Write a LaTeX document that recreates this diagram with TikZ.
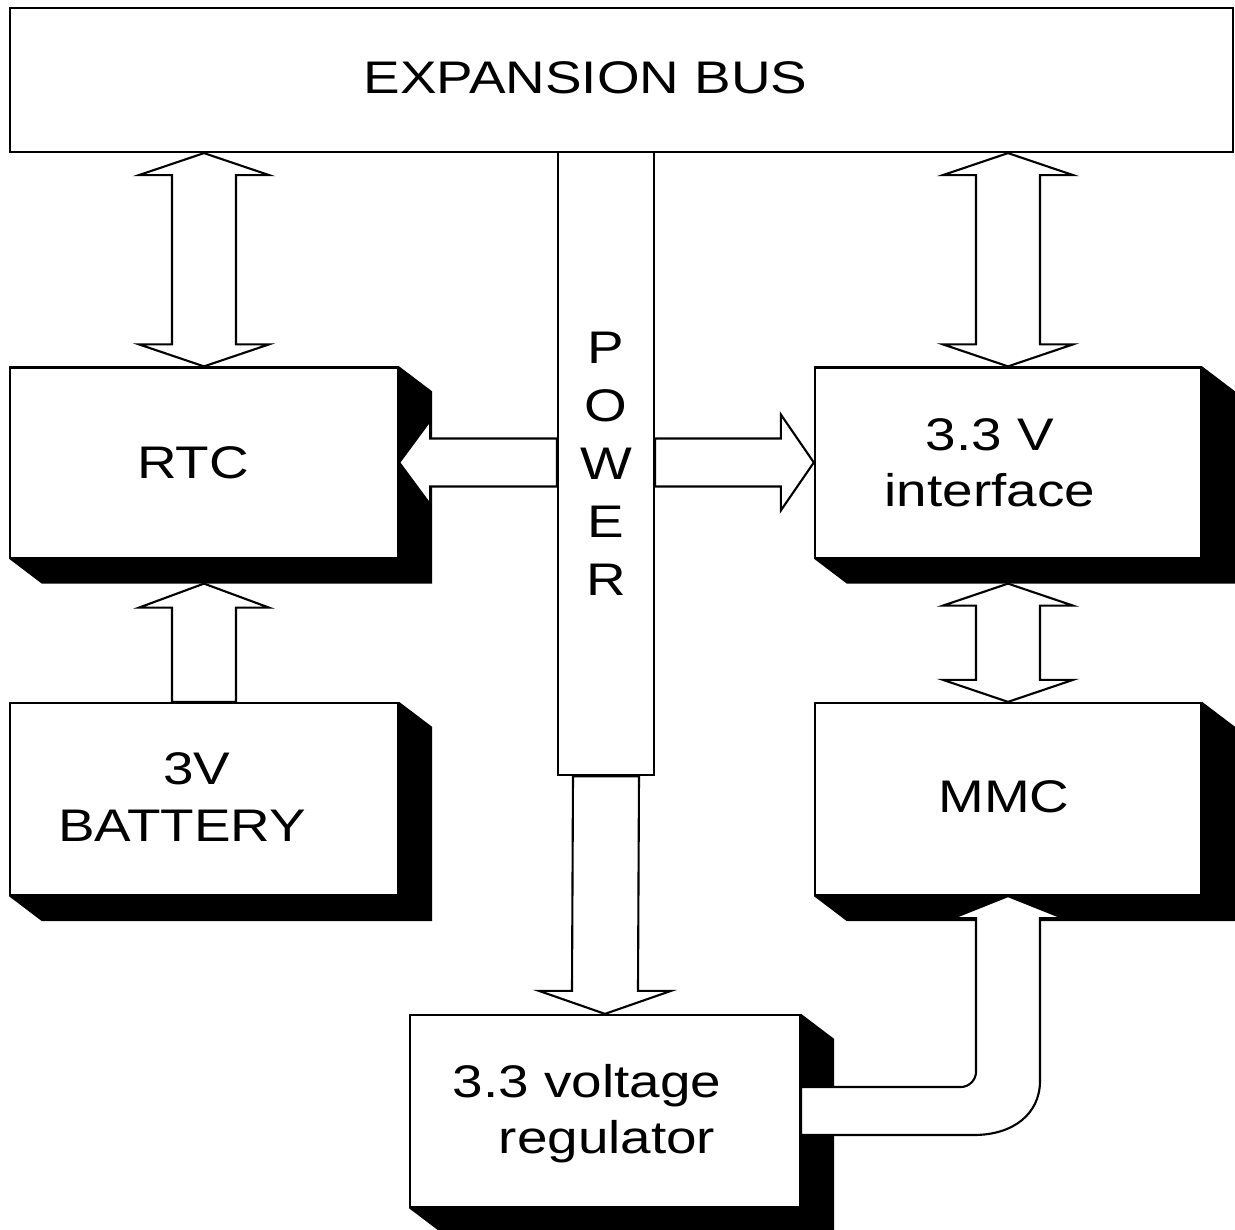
\documentclass[tikz,border=0pt]{standalone}
\usepackage{fontspec}
\setmainfont{Liberation Sans}[FakeStretch=1.2]
\usepackage{tikz}
\usetikzlibrary{positioning,calc}

% black 3D shadow below and right of a box
\newcommand{\boxshadow}[1]{\fill (#1.north east) -- ++(33,25) -- ($(#1.south east)+(33,25)$) -- ($(#1.south west)+(33,25)$) -- (#1.south west) -- (#1.south east) -- cycle;}
% hollow vertical double arrow, #1 top tip, #2 bottom tip
\newcommand{\vdouble}[2]{\draw[hollow] (#1) -- ++(65,22) -- ++(-33,0) -- ($(#2)+(32,-22)$) -- ++(33,0) -- (#2) -- ++(-65,-22) -- ++(33,0) -- ($(#1)+(-32,22)$) -- ++(-33,0) -- cycle;}

\begin{document}
\begin{tikzpicture}[x=0.01cm, y=-0.01cm, line width=0.6pt,
    every node/.style={font=\fontsize{13}{16}\selectfont, align=center},
    box/.style={draw, fill=white, inner sep=0pt, minimum width=3.88cm, minimum height=1.9cm},
    hollow/.style={draw, fill=white, line join=miter}]
        \useasboundingbox (0,0) rectangle (1235,1230);

        % Bus and power rail
        \node[draw, minimum width=12.23cm, minimum height=1.44cm] (bus) at (621.5,80) {};
        \node (bustext) at ($(bus)+(-36,-2)$) {EXPANSION BUS};
        \node[draw, fill=white, minimum width=0.96cm, minimum height=6.23cm,
              font=\fontsize{13}{16.5}\selectfont] (power) at (606,463.5) {P\\O\\W\\E\\R};

        % Blocks
        \node[box] (rtc) at (204,462.5) {};
        \node[box, minimum height=1.92cm] (bat) at (204,799) {};
        \node[box, minimum width=3.86cm] (iface) at (1008,462.5) {};
        \node[box, minimum width=3.86cm, minimum height=1.92cm] (mmc) at (1008,799) {};
        \node[box, minimum width=3.9cm, minimum height=1.92cm] (reg) at (605,1111) {};

        % Block texts
        \node (rtctext) at ($(rtc)+(-11,0)$) {RTC};
        \node (battext) at ($(bat)+(-15,-2)$) {\hspace*{0.16cm}3V\\BATTERY\hspace*{0.14cm}};
        \node (ifacetext) at ($(iface)+(-18,0)$) {3.3 V\\interface};
        \node (mmctext) at ($(mmc)+(-4,-2)$) {MMC};
        \node (regtext) at ($(reg)+(-15,3)$) {3.3 voltage\hspace*{0.06cm}\\\hspace*{0.34cm}regulator};

        \boxshadow{rtc}
        \boxshadow{bat}
        \boxshadow{iface}
        \boxshadow{mmc}
        \boxshadow{reg}

        % Data paths
        \vdouble{rtc.north |- bus.south}{rtc.north}
        \vdouble{iface.north |- bus.south}{iface.north}
        \vdouble{$(iface.south)+(0,25)$}{mmc.north}

        % Battery to RTC
        \draw[hollow] ($(rtc.south)+(0,25)$) -- ++(65,24) -- ++(-33,0) -- ($(bat.north)+(32,0)$)
            -- ($(bat.north)+(-32,0)$) -- ($(rtc.south)+(-32,49)$) -- ++(-33,0) -- cycle;

        % Power out of the rail
        \draw[hollow] (rtc.east) -- ++(31,-42) -- ++(0,18) -- ($(power.west |- rtc.east)+(0,-24)$)
            -- ++(0,48) -- ($(rtc.east)+(31,24)$) -- ++(0,18) -- cycle;
        \draw[hollow] (iface.west) -- ++(-33,-48) -- ++(0,24) -- ($(power.east |- iface.west)+(0,-24)$)
            -- ++(0,48) -- ($(iface.west)+(-33,24)$) -- ++(0,24) -- cycle;
        \draw[hollow] (reg.north) -- ++(-66,-23) -- ++(33,0) -- ($(power.south)+(-33,0)$)
            -- ++(66,0) -- ($(reg.north)+(33,-23)$) -- ++(33,0) -- cycle;

        % Regulator to MMC
        \coordinate (bend) at (mmc.south |- reg.east);
        \draw[hollow] ($(reg.east)+(0,-24)$) -- ($(bend)+(-47,-24)$)
            .. controls ($(bend)+(-39,-24)$) and ($(bend)+(-32,-31)$) .. ($(bend)+(-32,-39)$)
            -- ($(mmc.south)+(-32,22)$) -- ++(-23,0) -- (mmc.south) -- ++(55,22) -- ++(-23,0)
            -- ($(bend)+(32,-30)$) .. controls ($(bend)+(32,3)$) and ($(bend)+(5,24)$) .. ($(bend)+(-34,24)$)
            -- ($(reg.east)+(0,24)$) -- cycle;
      \end{tikzpicture}
\end{document}
